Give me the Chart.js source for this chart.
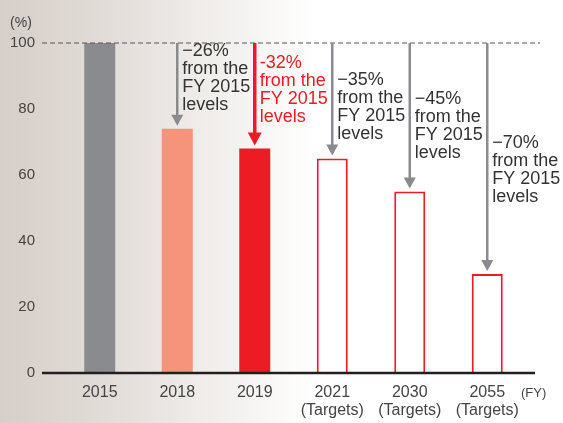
<!DOCTYPE html>
<html lang="en">
<head>
<meta charset="UTF-8" />
<title>Reduction from FY 2015 levels</title>
<script src="https://cdn.jsdelivr.net/npm/chart.js@4.4.0/dist/chart.umd.min.js"></script>
<style>
  html, body { margin: 0; padding: 0; }
  body {
    width: 563px;
    height: 423px;
    overflow: hidden;
    background: linear-gradient(to right, #d6cec8 0%, #e4dfdb 22%, #f4f2f0 42%, #ffffff 56%);
  }
  .chart-box { position: relative; width: 563px; height: 423px; }
</style>
</head>
<body>
<div class="chart-box"><canvas id="reductionChart"></canvas></div>
<script>
  // data
  const years = ["2015", "2018", "2019", "2021", "2030", "2055"];
  const subLabels = ["", "", "", "(Targets)", "(Targets)", "(Targets)"];
  const levels = [100, 74, 68, 65, 55, 30];
  const yTicks = [0, 20, 40, 60, 80, 100];
  const notes = [
    null,
    ["\u221226%", "from the", "FY 2015", "levels"],
    ["-32%", "from the", "FY 2015", "levels"],
    ["\u221235%", "from the", "FY 2015", "levels"],
    ["\u221245%", "from the", "FY 2015", "levels"],
    ["\u221270%", "from the", "FY 2015", "levels"],
  ];

  // styling
  const FONT = "'Liberation Sans', Arial, sans-serif";
  const GRAY = "#8a8b8f";
  const RED = "#ed1c24";
  const fills = [GRAY, "#f5937b", RED, "#ffffff", "#ffffff", "#ffffff"];
  const borders = [0, 0, 0, 2, 2, 2];
  const noteTop = [0, 8, 20, 37, 56, 100]; // first line offset below the 100 line

  const overlay = {
    id: "overlay",
    afterDatasetsDraw(chart) {
      const { ctx, scales: { y } } = chart;
      const y100 = y.getPixelForValue(100);
      const y0 = y.getPixelForValue(0);
      ctx.save();

      // dashed 100 line
      ctx.strokeStyle = "#555";
      ctx.lineWidth = 1;
      ctx.setLineDash([5, 3]);
      ctx.beginPath();
      ctx.moveTo(42, y100);
      ctx.lineTo(540, y100);
      ctx.stroke();
      ctx.setLineDash([]);

      // baseline
      ctx.strokeStyle = "#231f20";
      ctx.lineWidth = 2.5;
      ctx.beginPath();
      ctx.moveTo(42, y0);
      ctx.lineTo(535, y0);
      ctx.stroke();

      // arrows + notes
      const meta = chart.getDatasetMeta(0);
      notes.forEach((lines, i) => {
        if (!lines) return;
        const bar = meta.data[i];
        const x = bar.x;
        const tip = bar.y - 3;
        const red = i === 2;
        const col = red ? RED : GRAY;
        const hw = red ? 7 : 6;
        const hh = red ? 13 : 11;
        ctx.strokeStyle = col;
        ctx.fillStyle = col;
        ctx.lineWidth = red ? 3.5 : 2.5;
        ctx.beginPath();
        ctx.moveTo(x, y100);
        ctx.lineTo(x, tip - hh + 1);
        ctx.stroke();
        ctx.beginPath();
        ctx.moveTo(x - hw, tip - hh);
        ctx.lineTo(x + hw, tip - hh);
        ctx.lineTo(x, tip);
        ctx.closePath();
        ctx.fill();

        ctx.fillStyle = red ? RED : "#333";
        ctx.font = "18px " + FONT;
        ctx.textAlign = "left";
        ctx.textBaseline = "middle";
        lines.forEach((t, k) => {
          ctx.fillText(t, x + 5, y100 + noteTop[i] + k * 18);
        });
      });

      // unit labels
      ctx.fillStyle = "#444";
      ctx.textBaseline = "middle";
      ctx.font = "14px " + FONT;
      ctx.textAlign = "center";
      ctx.fillText("(%)", 21, 23);
      ctx.font = "13px " + FONT;
      ctx.textAlign = "left";
      ctx.fillText("(FY)", 521, y0 + 20);
      ctx.restore();
    },
  };

  new Chart(document.getElementById("reductionChart"), {
    type: "bar",
    data: {
      labels: years,
      datasets: [{
        data: levels,
        backgroundColor: fills,
        borderColor: RED,
        borderWidth: borders,
        barPercentage: 0.4,
        categoryPercentage: 1,
      }],
    },
    options: {
      responsive: true,
      maintainAspectRatio: false,
      animation: false,
      layout: { padding: { top: 43, right: 37, left: 10, bottom: 3 } },
      plugins: { legend: { display: false }, tooltip: { enabled: false } },
      scales: {
        x: {
          grid: { display: false, drawTicks: false },
          border: { display: false },
          afterFit: (axis) => { axis.height = 47; },
          ticks: {
            color: "#444",
            font: { family: FONT, size: 16, lineHeight: 1.15 },
            padding: 10,
            maxRotation: 0,
            callback: (v, i) => subLabels[i] ? [years[i], subLabels[i]] : years[i],
          },
        },
        y: {
          min: 0,
          max: 100,
          afterBuildTicks: (axis) => { axis.ticks = yTicks.map((v) => ({ value: v })); },
          afterFit: (axis) => { axis.width = 51; },
          grid: { display: false, drawTicks: false },
          border: { display: false },
          ticks: {
            color: "#444",
            font: { family: FONT, size: 15 },
            padding: 26,
          },
        },
      },
    },
    plugins: [overlay],
  });
</script>
</body>
</html>
